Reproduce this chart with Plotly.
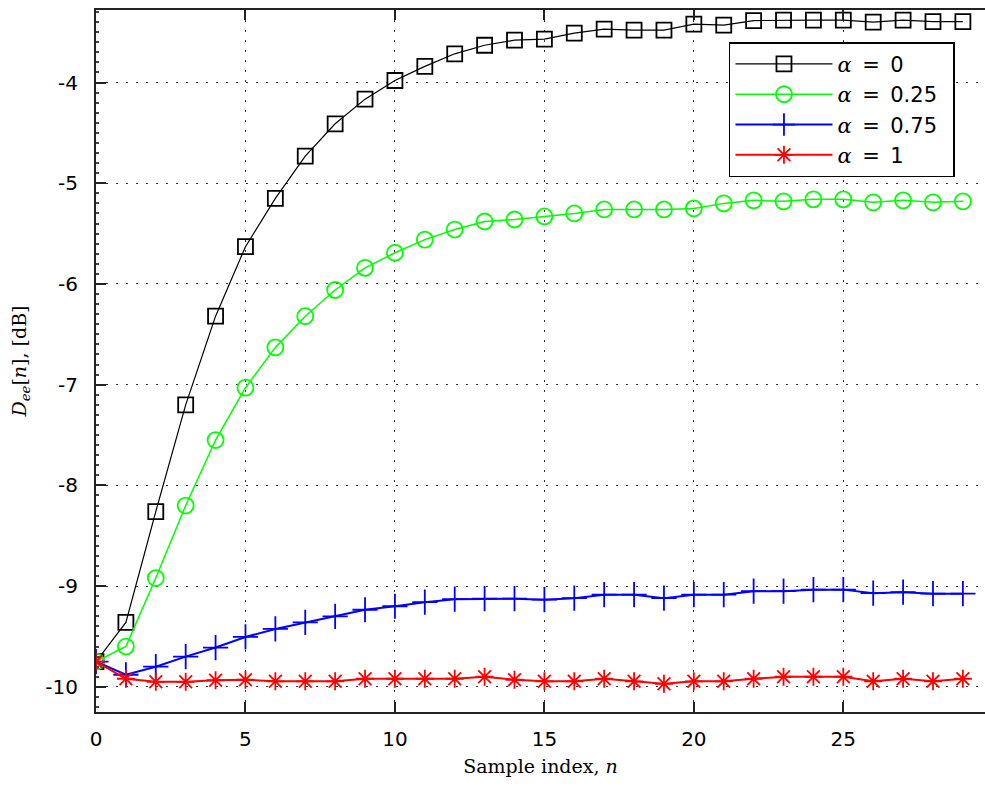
import plotly.graph_objects as go

# Sample index n = 0 .. 29
n = list(range(30))

# D_ee[n] in dB for each alpha
d_alpha_0 = [-9.75, -9.36, -8.26, -7.20, -6.32, -5.63, -5.15, -4.73, -4.41, -4.165,
             -3.98, -3.84, -3.715, -3.63, -3.58, -3.57, -3.51, -3.47, -3.48, -3.48,
             -3.42, -3.43, -3.385, -3.38, -3.38, -3.38, -3.40, -3.38, -3.395, -3.395]
d_alpha_025 = [-9.75, -9.60, -8.92, -8.20, -7.55, -7.03, -6.63, -6.32, -6.06, -5.84,
               -5.69, -5.56, -5.46, -5.38, -5.36, -5.33, -5.30, -5.26, -5.26, -5.26,
               -5.25, -5.20, -5.17, -5.18, -5.16, -5.16, -5.19, -5.17, -5.19, -5.18]
d_alpha_075 = [-9.75, -9.88, -9.80, -9.70, -9.61, -9.505, -9.425, -9.36, -9.30, -9.235,
               -9.20, -9.16, -9.13, -9.125, -9.125, -9.135, -9.12, -9.085, -9.085, -9.12,
               -9.085, -9.085, -9.05, -9.05, -9.035, -9.035, -9.07, -9.06, -9.075, -9.075]
d_alpha_1 = [-9.75, -9.92, -9.95, -9.95, -9.935, -9.93, -9.945, -9.945, -9.945, -9.92,
             -9.92, -9.92, -9.92, -9.90, -9.93, -9.945, -9.945, -9.92, -9.945, -9.97,
             -9.945, -9.945, -9.92, -9.90, -9.90, -9.90, -9.945, -9.92, -9.945, -9.92]

alpha_values = ["0", "0.25", "0.75", "1"]
alpha_sym = "<span style='font-family:DejaVu Serif'><i>α</i></span>"
series_names = [alpha_sym + "\u2002=\u2002" + a + "\u2002" for a in alpha_values]

x_tickvals = [0, 5, 10, 15, 20, 25]
x_ticktext = ["0", "5", "10", "15", "20", "25"]
y_tickvals = [-4, -5, -6, -7, -8, -9, -10]
y_ticktext = ["-4", "-5", "-6", "-7", "-8", "-9", "-10"]

styles = [
    dict(color="#000000", symbol="square-open", size=15, lw=1.2),
    dict(color="#00ff00", symbol="circle-open", size=16, lw=1.5),
    dict(color="#0000ff", symbol="cross-thin-open", size=18, lw=2.0),
    dict(color="#ff0000", symbol="asterisk-open", size=15, lw=2.0),
]

fig = go.Figure()
for ys, name, st in zip([d_alpha_0, d_alpha_025, d_alpha_075, d_alpha_1], series_names, styles):
    fig.add_trace(go.Scatter(
        x=n, y=ys, name=name, mode="lines+markers",
        line=dict(color=st["color"], width=st["lw"]),
        marker=dict(symbol=st["symbol"], size=st["size"], color=st["color"],
                    line=dict(color=st["color"], width=1.8)),
    ))

tick_font = dict(family="DejaVu Sans", size=20, color="#000000")
title_font = dict(family="DejaVu Serif", size=19, color="#000000")

fig.update_layout(
    width=985, height=790,
    margin=dict(l=96, r=0, t=10, b=78),
    paper_bgcolor="white", plot_bgcolor="white",
    showlegend=True,
    legend=dict(
        x=0.712, y=0.954, xanchor="left", yanchor="top",
        bgcolor="white", bordercolor="#000000", borderwidth=1.5,
        font=dict(family="DejaVu Sans", size=21, color="#000000"),
        itemwidth=97, tracegroupgap=0,
    ),
)

fig.update_xaxes(
    range=[0, 29.74], tickvals=x_tickvals, ticktext=x_ticktext,
    ticks="inside", ticklen=10, tickwidth=1.5, tickcolor="#222222",
    showline=True, linecolor="#222222", linewidth=2, mirror="ticks",
    showgrid=True, gridcolor="#333333", gridwidth=1.2, griddash="2px,8px",
    zeroline=False, tickfont=tick_font, ticklabelstandoff=8,
    title=dict(text="Sample index, <i>n</i>", font=title_font, standoff=10),
)
fig.update_yaxes(
    range=[-10.25, -3.28], tickvals=y_tickvals, ticktext=y_ticktext,
    ticks="inside", ticklen=10, tickwidth=1.5, tickcolor="#222222",
    minor=dict(dtick=0.1, tick0=-10, ticks="inside", ticklen=3, tickwidth=2, tickcolor="#444444", showgrid=False),
    showline=True, linecolor="#222222", linewidth=2, mirror=False,
    showgrid=True, gridcolor="#333333", gridwidth=1.2, griddash="2px,8px",
    zeroline=False, tickfont=tick_font, ticklabelstandoff=12,
    title=dict(text="<i>D<sub>ee</sub></i>[<i>n</i>], [dB]", font=title_font, standoff=14),
)

fig.write_html("out.html")
